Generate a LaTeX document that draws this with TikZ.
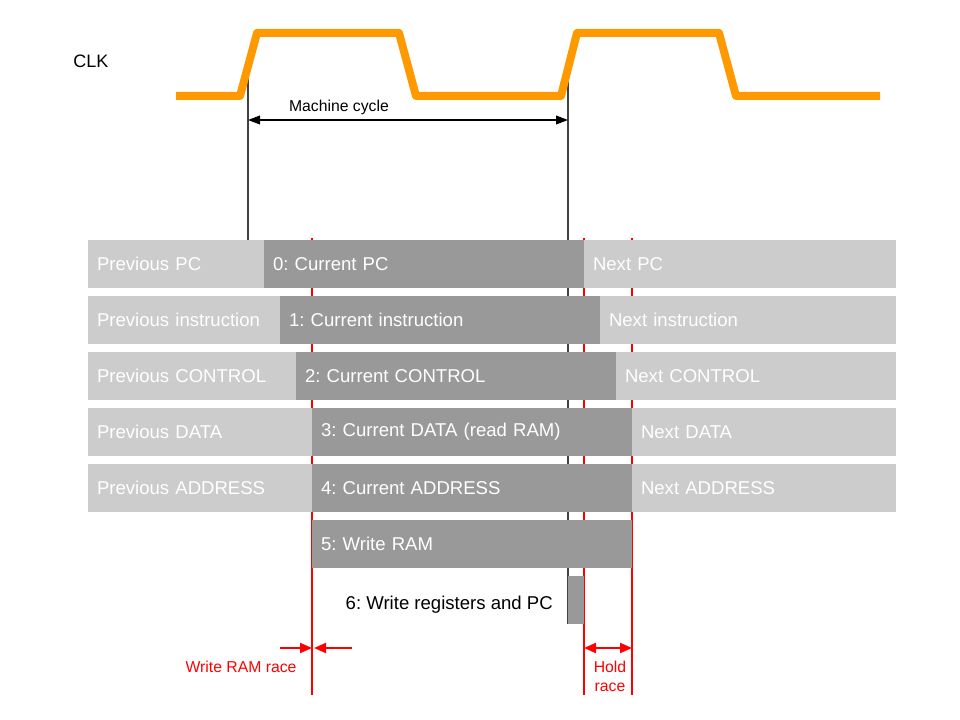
\documentclass[tikz,border=0pt]{standalone}
\usepackage{fontspec}
\setmainfont{Liberation Sans}
\usepackage{xcolor}
\usepackage{tikz}
\usetikzlibrary{arrows.meta,positioning,backgrounds}

\definecolor{clkorange}{HTML}{FF9900}
\definecolor{oldgray}{HTML}{CCCCCC}
\definecolor{nowgray}{HTML}{999999}

% name, style, left x, right x, top y, text
\newcommand{\phase}[6]{\node[#2, anchor=north west, text width={(#4-#3)*0.025cm-0.45cm}] (#1) at (#3,#5) {#6};}

\begin{document}
\frenchspacing
\begin{tikzpicture}[x=0.025cm, y=-0.025cm,
    older/.style={fill=oldgray, text=white, align=left, inner xsep=0.225cm, inner ysep=0pt, outer sep=0pt, minimum height=1.2cm, font=\fontsize{13.2}{15}\selectfont\frenchspacing},
    current/.style={older, fill=nowgray},
    clk/.style={draw=clkorange, line width=0.2cm, line join=round},
    tick/.style={draw=black!75, line width=0.9pt},
    span/.style={{Triangle[length=0.3cm, width=0.22cm]}-{Triangle[length=0.3cm, width=0.22cm]}, line width=0.9pt},
    race/.style={draw=red, line width=1.4pt},
    racearrow/.style={race, -{Triangle[length=0.3cm, width=0.25cm]}},
    lab/.style={font=\fontsize{11.2}{13.5}\selectfont, inner sep=0pt},
    racelab/.style={lab, text=red, align=center}
  ]
    \useasboundingbox (0,0) rectangle (960,720);

    \node[lab, font=\fontsize{12.8}{15}\selectfont] (clkname) at (91,61) {CLK};
    \draw[clk] (176,96) -- (240,96) -- (257,33) -- (399,33) -- (416,96) -- (561,96) -- (577,33) -- (719,33) -- (736,96) -- (880,96);
    \coordinate (riseA) at (248,72);
    \coordinate (riseB) at (568,72);

    \phase{prev0}{older}{88}{264}{240}{Previous PC}
    \phase{cur0}{current}{264}{584}{240}{0: Current PC}
    \phase{next0}{older}{584}{896}{240}{Next PC}
    \phase{prev1}{older}{88}{280}{296}{Previous instruction}
    \phase{cur1}{current}{280}{600}{296}{1: Current instruction}
    \phase{next1}{older}{600}{896}{296}{Next instruction}
    \phase{prev2}{older}{88}{296}{352}{Previous CONTROL}
    \phase{cur2}{current}{296}{616}{352}{2: Current CONTROL}
    \phase{next2}{older}{616}{896}{352}{Next CONTROL}
    \phase{prev3}{older}{88}{312}{408}{Previous DATA}
    \phase{cur3}{current}{312}{632}{408}{3: Current DATA (read RAM)}
    \phase{next3}{older}{632}{896}{408}{Next DATA}
    \phase{prev4}{older}{88}{312}{464}{Previous ADDRESS}
    \phase{cur4}{current}{312}{632}{464}{4: Current ADDRESS}
    \phase{next4}{older}{632}{896}{464}{Next ADDRESS}
    \phase{cur5}{current}{312}{632}{520}{5: Write RAM}
    \node[current, anchor=north west, inner sep=0pt, minimum width=0.4cm] (cur6) at (568,576) {};
    \node[lab, font=\fontsize{13.2}{15}\selectfont\frenchspacing, anchor=east] (cur6lab) at (553,605) {6: Write registers and PC};

    \coordinate (wrTop) at (312,238);
    \coordinate (wrBot) at (312,695);
    \coordinate (holdTop) at (584,238);
    \coordinate (holdBot) at (584,695);
    \coordinate (nextTop) at (632,238);
    \coordinate (nextBot) at (632,695);

    \begin{pgfonlayer}{background}
      \draw[tick] (riseA) -- (riseA |- prev0.south);
      \draw[tick] (riseB) -- (cur6.south west);
      \draw[race] (wrTop) -- (wrBot);
      \draw[race] (holdTop) -- (holdBot);
      \draw[race] (nextTop) -- (nextBot);
    \end{pgfonlayer}

    \coordinate (cycL) at (248,120);
    \coordinate (cycR) at (568,120);
    \draw[span] (cycL) -- (cycR);
    \node[lab] (cyclab) at (339,107) {Machine cycle};

    \coordinate (wrLeft) at (280,648);
    \coordinate (wrRight) at (352,648);
    \draw[racearrow] (wrLeft) -- (wrTop |- wrLeft);
    \draw[racearrow] (wrRight) -- ([xshift=0.05cm]wrTop |- wrRight);
    \node[racelab] (wrlab) at (241,667) {Write RAM race};

    \coordinate (holdL) at (584,648);
    \coordinate (holdR) at (632,648);
    \draw[racearrow, {Triangle[length=0.3cm, width=0.25cm]}-{Triangle[length=0.3cm, width=0.25cm]}] (holdL) -- (holdR);
    \node[racelab] (holdlab) at (610,676) {Hold\\race};
  \end{tikzpicture}
\end{document}
